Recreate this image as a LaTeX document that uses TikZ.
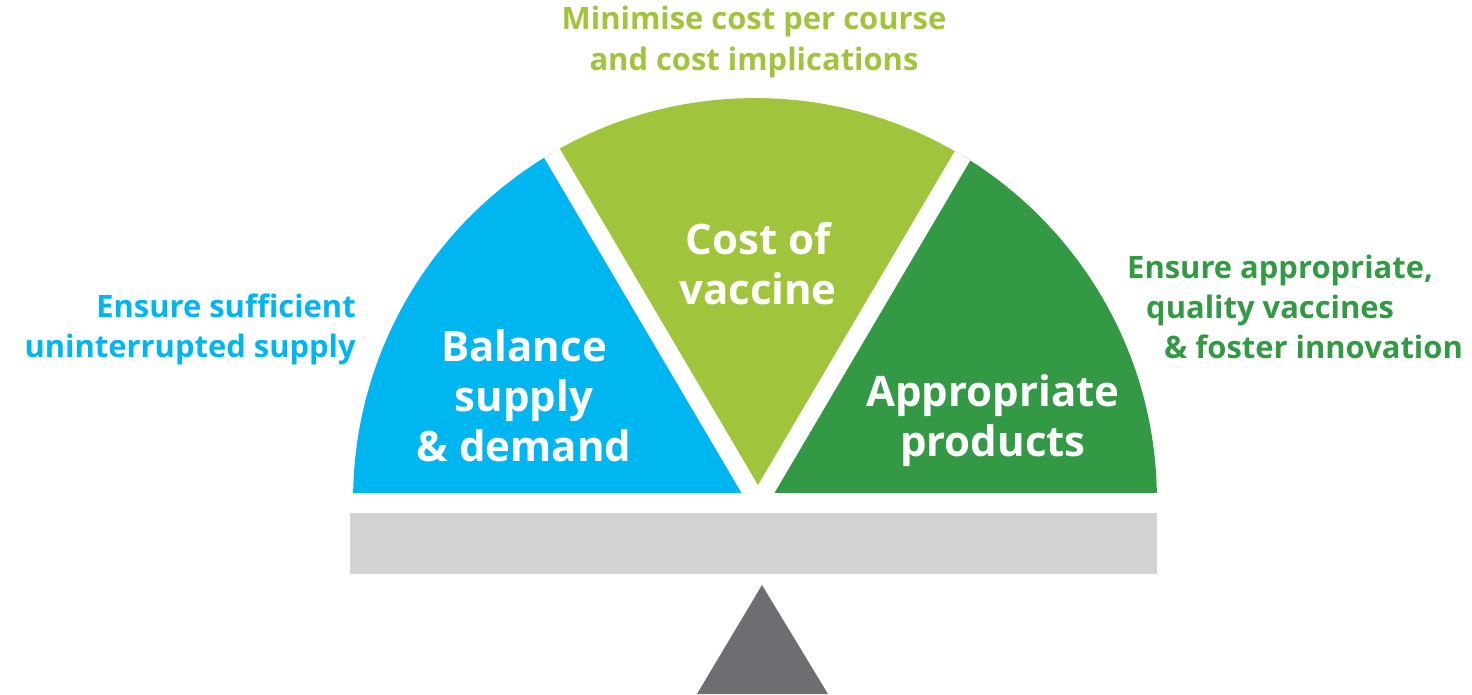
\documentclass[tikz,border=0pt]{standalone}
\usepackage{fontspec}
\setmainfont{Open Sans}
\definecolor{supplyblue}{RGB}{0,182,240}
\definecolor{costgreen}{RGB}{160,196,60}
\definecolor{prodgreen}{RGB}{51,153,68}
\definecolor{beamgrey}{RGB}{209,211,212}
\definecolor{pivotgrey}{RGB}{109,110,113}
\tikzset{
  inlabel/.style={text=white, font=\bfseries\fontsize{23.9}{28.4}\selectfont, align=center},
  outlabel/.style={font=\bfseries\fontsize{17.6}{22.8}\selectfont},
}

\begin{document}
\begin{tikzpicture}[x=0.02cm,y=0.02cm]
  \useasboundingbox (0,0) rectangle (1472,694);
  \coordinate (hub) at (758,191);
  % the three sectors of the half disc
  \begin{scope}
    \clip (353,202) rectangle (1157,600);
    \clip (755,194) circle [radius=8.04cm];
    \fill[supplyblue] (hub) -- +(120.5:12cm) -- (0,694) -- (0,191) -- cycle;
    \fill[costgreen] (hub) -- +(120.5:12cm) -- +(59.5:12cm) -- cycle;
    \fill[prodgreen] (hub) -- +(59.5:12cm) -- (1472,694) -- (1472,191) -- cycle;
    \draw[white, line width=0.36cm] (hub) -- +(120.5:12cm) (hub) -- +(59.5:12cm);
  \end{scope}
  % beam and pivot
  \fill[beamgrey] (350,120) rectangle (1157,181);
  \fill[pivotgrey] (762,109) -- (697,0) -- (828,0) -- cycle;

  \node[inlabel] (cost) at (758,430) {Cost of\\vaccine};
  \node[inlabel] (supply) at (524,298) {Balance\\supply\\\& demand};
  \node[inlabel] (prod) at (993,273) {Appropriate\\products};

  \node[outlabel, text=costgreen, align=center] (costnote) at (754,652)
    {Minimise cost per course\\and cost implications};
  \node[outlabel, text=supplyblue, align=right, anchor=east] (supplynote) at (362,365)
    {Ensure sufficient\\uninterrupted supply};
  \node[outlabel, text=prodgreen, align=left, anchor=west] (prodnote) at (1121,387)
    {Ensure appropriate,\\\hspace*{0.38cm}quality vaccines\\\hspace*{0.74cm}\& foster innovation};
\end{tikzpicture}
\end{document}
